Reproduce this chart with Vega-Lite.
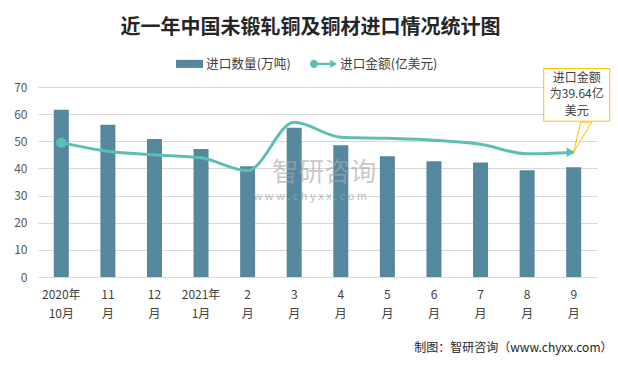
{
  "$schema": "https://vega.github.io/schema/vega-lite/v6.json",
  "autosize": {"type": "none"},
  "width": 559,
  "height": 190,
  "padding": {"left": 38, "top": 87, "right": 21, "bottom": 91},
  "background": "white",
  "config": {
    "view": {"stroke": null},
    "font": "Noto Sans CJK SC",
    "axisY": {
      "labelFontSize": 12,
      "labelColor": "#595959",
      "labelPadding": 11,
      "ticks": false,
      "domain": false,
      "gridColor": "#D9D9D9",
      "gridWidth": 1,
      "tickCount": 8
    }
  },
  "title": {
    "text": "近一年中国未锻轧铜及铜材进口情况统计图",
    "font": "Noto Sans CJK SC",
    "fontSize": 20,
    "fontWeight": "bold",
    "color": "#262626",
    "anchor": "middle",
    "dx": -7,
    "offset": 12
  },
  "data": {
    "values": [
      {"month": "2020年10月", "qty": 61.6, "amt": 49.5},
      {"month": "11月", "qty": 56.1, "amt": 46.3},
      {"month": "12月", "qty": 50.8, "amt": 45.0},
      {"month": "2021年1月", "qty": 47.2, "amt": 43.9},
      {"month": "2月", "qty": 40.8, "amt": 39.2},
      {"month": "3月", "qty": 55.0, "amt": 57.0},
      {"month": "4月", "qty": 48.5, "amt": 51.5},
      {"month": "5月", "qty": 44.5, "amt": 51.1},
      {"month": "6月", "qty": 42.6, "amt": 50.4},
      {"month": "7月", "qty": 42.2, "amt": 48.9},
      {"month": "8月", "qty": 39.3, "amt": 45.4},
      {"month": "9月", "qty": 40.4, "amt": 46.0}
    ]
  },
  "encoding": {
    "x": {
      "field": "month",
      "type": "nominal",
      "sort": null,
      "scale": {"paddingInner": 0, "paddingOuter": 0},
      "axis": {
        "title": "制图：智研咨询（www.chyxx.com）",
        "titleFont": "Noto Sans CJK SC",
        "titleFontSize": 12,
        "titleFontWeight": "normal",
        "titleColor": "#262626",
        "titleAnchor": "end",
        "titleAlign": "right",
        "titleBaseline": "middle",
        "titleX": 574,
        "titleY": 70,
        "labelAngle": 0,
        "labelFontSize": 12,
        "labelColor": "#404040",
        "labelPadding": 12,
        "labelBaseline": "top",
        "labelLineHeight": 19,
        "labelExpr": "indexof(datum.value,'年')>0 ? [slice(datum.value,0,5), slice(datum.value,5)] : [slice(datum.value,0,-1),'月']",
        "ticks": false,
        "domainColor": "#D9D9D9",
        "domainWidth": 1
      }
    }
  },
  "layer": [
    {
      "mark": {"type": "bar", "size": 15},
      "encoding": {
        "y": {
          "field": "qty",
          "type": "quantitative",
          "scale": {"domain": [0, 70], "nice": false},
          "axis": {"title": null, "values": [0, 10, 20, 30, 40, 50, 60, 70]}
        },
        "color": {
          "datum": "进口数量(万吨)",
          "scale": {"domain": ["进口数量(万吨)", "进口金额(亿美元)"], "range": ["#55889F", "#5CBFB3"]},
          "legend": {
            "title": null,
            "orient": "none",
            "legendX": 138,
            "legendY": -37,
            "direction": "horizontal",
            "labelFontSize": 12.7,
            "labelColor": "#404040",
            "labelOffset": 3,
            "columnPadding": 19,
            "symbolSize": 729,
            "encode": {
              "symbols": {
                "update": {
                  "shape": {"signal": "datum.value === '进口数量(万吨)' ? 'M-1,-0.3H1V0.3H-1Z' : 'M-1.0,0A0.3,0.3 0 1,1 -0.4,0A0.3,0.3 0 1,1 -1.0,0Z M-0.4,-0.09H0.55V0.09H-0.4Z M0.5,-0.3L1.0,0L0.5,0.3Z'"},
                  "fill": {"signal": "datum.value === '进口数量(万吨)' ? '#55889F' : '#5CBFB3'"},
                  "strokeWidth": {"value": 0},
                  "opacity": {"value": 1}
                }
              }
            }
          }
        }
      }
    },
    {
      "mark": {"type": "text", "fontSize": 26, "color": "#A6A6A6", "opacity": 0.6, "xOffset": 30},
      "transform": [{"filter": "datum.month === '3月'"}],
      "encoding": {
        "y": {"datum": 38.5, "type": "quantitative", "axis": {"title": null, "values": [0, 10, 20, 30, 40, 50, 60, 70]}},
        "text": {"value": "智研咨询"}
      }
    },
    {
      "mark": {"type": "text", "fontSize": 11, "color": "#A6A6A6", "opacity": 0.7, "xOffset": 16},
      "transform": [{"filter": "datum.month === '3月'"}],
      "encoding": {
        "y": {"datum": 29.5, "type": "quantitative", "axis": {"title": null, "values": [0, 10, 20, 30, 40, 50, 60, 70]}},
        "text": {"value": "w w w . c h y x x . c o m"}
      }
    },
    {
      "mark": {"type": "line", "interpolate": "monotone", "strokeWidth": 3},
      "encoding": {
        "y": {"field": "amt", "type": "quantitative", "axis": {"title": null, "values": [0, 10, 20, 30, 40, 50, 60, 70]}},
        "color": {"datum": "进口金额(亿美元)"}
      }
    },
    {
      "mark": {"type": "point", "filled": true, "size": 110, "opacity": 1, "color": "#5CBFB3"},
      "transform": [{"filter": "datum.month === '2020年10月'"}],
      "encoding": {
        "y": {"field": "amt", "type": "quantitative", "axis": {"title": null, "values": [0, 10, 20, 30, 40, 50, 60, 70]}}
      }
    },
    {
      "mark": {"type": "point", "shape": "M0,0 L0.23,-1 L0.6,-1 Z", "size": 3600, "filled": false, "fill": "white", "stroke": "#FFC000", "strokeWidth": 1, "opacity": 1},
      "transform": [{"filter": "datum.month === '9月'"}],
      "encoding": {
        "y": {"field": "amt", "type": "quantitative", "axis": {"title": null, "values": [0, 10, 20, 30, 40, 50, 60, 70]}}
      }
    },
    {
      "mark": {"type": "point", "shape": "triangle-right", "filled": true, "size": 90, "opacity": 1, "color": "#5CBFB3", "xOffset": -3},
      "transform": [{"filter": "datum.month === '9月'"}],
      "encoding": {
        "y": {"field": "amt", "type": "quantitative", "axis": {"title": null, "values": [0, 10, 20, 30, 40, 50, 60, 70]}}
      }
    },
    {
      "mark": {"type": "rect", "width": 66, "fill": "white", "stroke": "#FFC000", "strokeWidth": 1, "xOffset": 3},
      "transform": [{"filter": "datum.month === '9月'"}],
      "encoding": {
        "y": {"datum": 76.8, "type": "quantitative", "axis": {"title": null, "values": [0, 10, 20, 30, 40, 50, 60, 70]}},
        "y2": {"datum": 57.4}
      }
    },
    {
      "mark": {"type": "text", "fontSize": 12, "color": "#404040", "lineBreak": "|", "lineHeight": 16.5, "xOffset": 3, "baseline": "middle"},
      "transform": [{"filter": "datum.month === '9月'"}],
      "encoding": {
        "y": {"datum": 73.4, "type": "quantitative", "axis": {"title": null, "values": [0, 10, 20, 30, 40, 50, 60, 70]}},
        "text": {"value": "进口金额|为39.64亿|美元"}
      }
    }
  ]
}
